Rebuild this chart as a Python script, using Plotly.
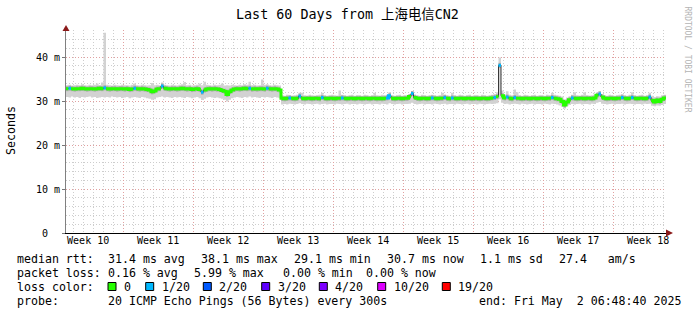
import plotly.graph_objects as go
import pandas as pd

# ---------------- data ----------------
start_time = "2025-03-03 06:48:40"
end_time = "2025-05-02 06:48:40"
step = "6h"

median_ms = [
    32.8, 32.9, 32.8, 32.7, 32.8, 32.8, 32.9, 32.8, 32.7, 32.8, 32.8, 32.7, 32.8, 32.9, 32.8, 33.0, 32.8, 32.7, 32.8, 32.8,
    32.7, 32.8, 32.8, 32.7, 32.8, 32.6, 32.7, 32.9, 32.8, 32.7, 32.8, 32.7, 32.6, 32.5, 32.1, 32.3, 32.7, 32.8, 33.4, 32.9,
    32.8, 32.7, 32.8, 32.8, 32.7, 32.8, 32.9, 32.8, 32.7, 32.8, 32.6, 32.7, 32.8, 32.6, 32.0, 32.5, 32.7, 32.8, 32.7, 32.8,
    32.7, 32.6, 32.4, 32.2, 31.5, 32.1, 32.5, 32.7, 32.8, 32.7, 32.8, 32.9, 32.8, 32.9, 32.7, 32.8, 32.7, 32.8, 32.8, 32.7,
    32.9, 32.8, 32.7, 32.8, 32.7, 32.5, 30.6, 30.5, 30.6, 30.7, 30.6, 30.5, 30.6, 31.1, 30.6, 30.5, 30.6, 30.6, 30.5, 30.6,
    30.6, 30.5, 30.8, 30.6, 30.5, 30.6, 30.6, 30.5, 30.6, 30.6, 30.7, 30.6, 30.5, 30.6, 30.6, 30.5, 30.6, 30.6, 30.5, 30.6,
    30.6, 30.5, 30.6, 30.6, 30.5, 30.6, 30.5, 30.6, 30.7, 31.2, 30.6, 30.5, 30.6, 30.6, 30.5, 30.6, 30.6, 31.0, 31.7, 30.8,
    30.6, 30.5, 30.6, 30.6, 30.5, 30.6, 30.7, 30.6, 30.5, 30.6, 30.6, 30.8, 30.6, 30.5, 30.7, 30.6, 30.5, 30.6, 30.6, 30.5,
    30.6, 30.6, 30.5, 30.6, 30.6, 30.5, 30.6, 30.6, 30.5, 30.6, 30.7, 30.8, 31.0, 38.1, 31.2, 30.7, 30.9, 30.6, 30.5, 30.8,
    30.6, 30.6, 30.5, 30.6, 30.6, 30.5, 30.6, 30.6, 30.5, 30.6, 30.6, 30.5, 30.6, 30.6, 30.8, 30.6, 30.5, 30.4, 29.9, 29.1,
    29.8, 30.3, 30.7, 30.6, 30.5, 30.6, 30.6, 30.5, 30.6, 30.6, 30.5, 30.7, 31.3, 31.6, 30.9, 30.6, 30.5, 30.6, 30.6, 30.5,
    30.6, 30.6, 30.8, 30.6, 30.5, 30.6, 30.8, 30.6, 30.5, 30.6, 30.6, 30.5, 30.6, 30.9, 30.1, 29.8, 30.2, 29.9, 30.4, 30.7,
]

smoke_lo_ms = [
    30.9, 30.8, 31.0, 30.8, 30.9, 30.7, 30.9, 30.8, 30.9, 31.0, 30.8, 30.9, 30.7, 30.8, 30.9, 30.8, 30.9, 30.8, 31.0, 30.9,
    30.8, 30.9, 30.7, 30.8, 30.9, 30.6, 30.8, 30.9, 30.8, 30.7, 30.9, 30.8, 30.6, 30.5, 30.3, 30.4, 30.8, 30.9, 31.0, 30.8,
    30.9, 30.8, 30.7, 30.9, 30.8, 30.9, 30.8, 30.7, 30.9, 30.8, 30.6, 30.8, 30.9, 30.6, 30.2, 30.5, 30.8, 30.9, 30.8, 30.7,
    30.8, 30.6, 30.5, 30.3, 29.9, 30.3, 30.6, 30.8, 30.9, 30.8, 30.7, 30.9, 30.8, 31.0, 30.8, 30.9, 30.8, 30.7, 30.9, 30.8,
    30.9, 30.8, 30.7, 30.9, 30.8, 30.6, 29.2, 29.3, 29.2, 29.4, 29.3, 29.2, 29.3, 29.5, 29.3, 29.2, 29.4, 29.3, 29.2, 29.3,
    29.4, 29.2, 29.3, 29.4, 29.2, 29.3, 29.3, 29.2, 29.4, 29.3, 29.2, 29.3, 29.4, 29.2, 29.3, 29.3, 29.2, 29.4, 29.3, 29.2,
    29.3, 29.4, 29.2, 29.3, 29.3, 29.2, 29.4, 29.3, 29.2, 29.5, 29.3, 29.2, 29.3, 29.4, 29.2, 29.3, 29.3, 29.4, 29.6, 29.3,
    29.2, 29.3, 29.4, 29.2, 29.3, 29.3, 29.2, 29.4, 29.3, 29.2, 29.3, 29.4, 29.2, 29.3, 29.3, 29.2, 29.4, 29.3, 29.2, 29.3,
    29.4, 29.2, 29.3, 29.3, 29.2, 29.4, 29.3, 29.2, 29.3, 29.4, 29.3, 29.4, 29.5, 30.4, 29.6, 29.3, 29.4, 29.2, 29.3, 29.4,
    29.3, 29.2, 29.4, 29.3, 29.2, 29.3, 29.4, 29.2, 29.3, 29.3, 29.2, 29.4, 29.3, 29.2, 29.4, 29.3, 29.2, 29.0, 28.7, 28.3,
    28.8, 29.1, 29.3, 29.2, 29.3, 29.4, 29.2, 29.3, 29.3, 29.2, 29.4, 29.3, 29.6, 29.8, 29.4, 29.3, 29.2, 29.3, 29.4, 29.2,
    29.3, 29.3, 29.4, 29.2, 29.3, 29.4, 29.3, 29.2, 29.3, 29.3, 29.2, 29.4, 29.3, 29.4, 28.9, 28.8, 29.0, 28.9, 29.1, 29.3,
]

smoke_hi_ms = [
    33.6, 33.7, 33.5, 33.6, 33.7, 33.6, 33.8, 33.6, 33.5, 33.7, 33.6, 33.7, 34.0, 33.6, 34.2, 45.5, 33.7, 33.6, 33.5, 33.7,
    33.6, 33.5, 33.7, 33.6, 33.6, 33.5, 33.7, 34.0, 33.6, 33.5, 33.7, 33.6, 33.5, 33.6, 34.1, 33.6, 33.7, 33.6, 34.2, 33.7,
    33.6, 33.5, 33.7, 33.6, 33.5, 33.7, 33.8, 34.3, 33.6, 33.7, 33.5, 33.6, 33.7, 34.0, 33.6, 34.4, 33.7, 33.6, 33.5, 33.7,
    33.6, 33.7, 34.0, 33.5, 33.6, 33.5, 33.7, 33.6, 33.5, 33.7, 33.6, 33.8, 33.7, 34.4, 33.6, 33.7, 33.5, 33.6, 34.9, 33.7,
    33.8, 33.6, 33.5, 33.7, 33.6, 33.5, 31.3, 31.2, 31.4, 31.3, 31.2, 31.3, 31.4, 31.9, 31.9, 31.3, 31.2, 31.4, 31.3, 31.2,
    31.3, 31.4, 31.9, 31.3, 31.2, 31.3, 31.4, 31.3, 31.2, 32.4, 31.4, 31.3, 31.2, 31.3, 31.4, 31.2, 31.3, 31.3, 31.2, 31.4,
    31.3, 31.2, 31.3, 31.9, 31.3, 31.2, 31.4, 31.3, 31.4, 32.0, 31.3, 31.2, 31.3, 31.4, 31.2, 31.3, 31.3, 31.6, 32.3, 31.5,
    31.3, 31.2, 31.4, 31.3, 31.2, 31.3, 31.4, 31.3, 31.2, 31.3, 31.9, 31.5, 31.3, 31.2, 31.9, 31.3, 31.2, 31.4, 31.3, 31.2,
    31.3, 31.4, 31.2, 31.3, 31.3, 31.2, 31.4, 31.3, 31.2, 31.3, 31.4, 31.6, 32.0, 39.9, 32.4, 31.5, 32.2, 31.4, 31.3, 32.6,
    32.0, 31.3, 31.2, 31.4, 31.3, 31.2, 31.3, 31.4, 31.2, 31.3, 31.3, 31.2, 31.4, 31.3, 31.9, 31.4, 31.3, 31.2, 31.0, 30.4,
    30.8, 31.1, 31.4, 32.0, 31.3, 31.2, 31.4, 32.0, 31.3, 31.2, 31.3, 31.5, 31.9, 32.3, 31.6, 31.3, 31.2, 31.4, 31.3, 31.2,
    31.3, 31.4, 31.6, 31.3, 31.2, 31.4, 32.0, 31.3, 31.2, 31.3, 31.4, 31.2, 31.3, 31.9, 31.2, 30.9, 31.1, 31.0, 31.3, 31.4,
]

# samples (index into the 6h series) that had 1/20 packet loss
loss_samples = [1, 15, 27, 38, 54, 73, 80, 89, 93, 102, 110, 128, 129, 138, 146, 151,
                154, 171, 173, 176, 179, 194, 202, 213, 222, 226, 233]
loss_counts = [1] * 27

week_grid_times = ["2025-03-09", "2025-03-16", "2025-03-23", "2025-03-30", "2025-04-06",
                   "2025-04-13", "2025-04-20", "2025-04-27"]
week_label_times = ["2025-03-05 12:00", "2025-03-12 12:00", "2025-03-19 12:00", "2025-03-26 12:00",
                    "2025-04-02 12:00", "2025-04-09 12:00", "2025-04-16 12:00", "2025-04-23 12:00",
                    "2025-04-30 12:00"]
week_labels = ["Week 10", "Week 11", "Week 12", "Week 13", "Week 14", "Week 15", "Week 16",
               "Week 17", "Week 18"]
y_tick_vals = [0, 10, 20, 30, 40]
y_tick_text = ["0\u00a0\u00a0", "10 m", "20 m", "30 m", "40 m"]

rtt_stats = ["31.4 ms avg", "38.1 ms max", "29.1 ms min", "30.7 ms now", "1.1 ms sd", "27.4   am/s"]
loss_stats = ["0.16 % avg", "5.99 % max", "0.00 % min", "0.00 % now"]
loss_color_labels = ["0", "1/20", "2/20", "3/20", "4/20", "10/20", "19/20"]
loss_color_values = ["#26ff00", "#00b8ff", "#0059ff", "#5e00ff", "#7e00ff", "#dd00ff", "#ff0000"]
probe_text = "20 ICMP Echo Pings (56 Bytes) every 300s"
end_text = "end: Fri May  2 06:48:40 2025"
title_text = "Last 60 Days from 上海电信CN2"

# ---------------- layout geometry (pixels) ----------------
W, H = 697, 315
PL, PR, PT, PB = 66, 666, 30, 233
Y_MAX = (PB - PT) / 4.4


def px(x):
    return (x - PL) / (PR - PL)


def py(y):
    return (PB - y) / (PB - PT)


MONO = "DejaVu Sans Mono"
MONO_CJK = "DejaVu Sans Mono, Noto Sans CJK SC"
MAJOR = "#e0a0a0"
MINOR = "#cdcdcd"

times = pd.date_range(start_time, periods=len(median_ms) + 1, freq=step)
n = len(median_ms)
loss = [0] * n
for i, c in zip(loss_samples, loss_counts):
    loss[i] = c

fig = go.Figure()

# smoke band
fig.add_trace(go.Scatter(x=times, y=smoke_lo_ms + [smoke_lo_ms[-1]], mode="lines",
                         line=dict(width=0, shape="hv", color="#cccccc"),
                         hoverinfo="skip", showlegend=False))
fig.add_trace(go.Scatter(x=times, y=smoke_hi_ms + [smoke_hi_ms[-1]], mode="lines",
                         line=dict(width=0, shape="hv", color="#cccccc"),
                         fill="tonexty", fillcolor="#d2d2d2",
                         hoverinfo="skip", showlegend=False))

# darker smoke close to the median (horizontal pieces only)
hx, hy = [], []
for k in range(n):
    hx += [times[k], times[k + 1], None]
    hy += [median_ms[k] - 0.0, median_ms[k], None]
fig.add_trace(go.Scatter(x=hx, y=hy, mode="lines",
                         line=dict(width=5, color="#ababab"),
                         hoverinfo="skip", showlegend=False))

# thin dark median trace (shows at loss transitions / spikes)
fig.add_trace(go.Scatter(x=times, y=median_ms + [median_ms[-1]], mode="lines",
                         line=dict(width=1, shape="hv", color="#3a3a3a"),
                         hoverinfo="skip", showlegend=False))

# median coloured by loss
for level, color in [(0, loss_color_values[0]), (1, loss_color_values[1])]:
    xs, ys = [], []
    i = 0
    while i < n:
        if loss[i] == level:
            j = i
            while j + 1 < n and loss[j + 1] == level:
                j += 1
            for k in range(i, j + 1):
                xs.append(times[k])
                ys.append(median_ms[k])
            xs.append(times[j + 1])
            ys.append(median_ms[j])
            xs.append(None)
            ys.append(None)
            i = j + 1
        else:
            i += 1
    fig.add_trace(go.Scatter(x=xs, y=ys, mode="lines", connectgaps=False,
                             line=dict(width=3, shape="hv", color=color),
                             hoverinfo="skip", showlegend=False))

# invisible trace on the label axis
fig.add_trace(go.Scatter(x=[times[0], times[-1]], y=[0, 0], xaxis="x2", mode="lines",
                         line=dict(width=0), hoverinfo="skip", showlegend=False))

fig.update_layout(
    width=W, height=H,
    margin=dict(l=PL, r=W - PR, t=PT, b=H - PB),
    paper_bgcolor="white", plot_bgcolor="white",
    font=dict(family=MONO, size=10, color="black"),
    xaxis=dict(
        type="date", range=[start_time, end_time],
        tickmode="array", tickvals=week_grid_times, showticklabels=False, ticks="",
        showgrid=True, gridcolor=MAJOR, griddash="1px,2px", gridwidth=1,
        minor=dict(dtick=86400000, tick0="2025-03-02", showgrid=True,
                   gridcolor=MINOR, griddash="1px,2px", gridwidth=1, ticks=""),
        showline=True, linecolor="black", linewidth=1, zeroline=False,
    ),
    xaxis2=dict(
        type="date", overlaying="x", anchor="y", side="bottom",
        range=[start_time, end_time],
        tickmode="array", tickvals=week_label_times, ticktext=week_labels,
        showgrid=False, ticks="", showline=False, zeroline=False,
        tickfont=dict(family=MONO, size=10, color="black"),
    ),
    yaxis=dict(
        range=[0, Y_MAX], tickmode="array", tickvals=y_tick_vals, ticktext=y_tick_text,
        showgrid=True, gridcolor=MAJOR, griddash="1px,2px", gridwidth=1,
        minor=dict(dtick=2, showgrid=True, gridcolor=MINOR, griddash="1px,2px", gridwidth=1),
        ticks="outside", ticklen=3, tickcolor="#777777",
        showline=True, linecolor="#808080", linewidth=1, zeroline=False,
        tickfont=dict(family=MONO, size=10, color="black"),
    ),
)

annotations = []
shapes = []


def add_text(x, y, text, size=11.6, color="black", xanchor="left", angle=0, family=MONO):
    annotations.append(dict(x=px(x), y=py(y), xref="paper", yref="paper", text=text,
                            showarrow=False, xanchor=xanchor, yanchor="middle",
                            textangle=angle, borderpad=0,
                            font=dict(family=family, size=size, color=color)))


add_text(347.5, 15, title_text, size=13.4, xanchor="center", family=MONO_CJK)
add_text(687.5, 59, "RRDTOOL / TOBI OETIKER", size=8, color="#b4b4b4", xanchor="center", angle=90)
add_text(11, 131, "Seconds", size=11.6, xanchor="center", angle=-90)

row_y = [259, 273, 286.5, 300.5]
add_text(16, row_y[0], "median rtt:")
for x, t in zip([107, 200, 293, 386, 479, 558], rtt_stats):
    add_text(x, row_y[0], t)
add_text(16, row_y[1], "packet loss:")
for x, t in zip([107, 193, 282, 365], loss_stats):
    add_text(x, row_y[1], t)
add_text(16, row_y[2], "loss color:")
box_x = [108, 145.7, 203.3, 261.7, 319.3, 377.7, 442.3]
lab_x = [123, 161, 218.3, 276.7, 334.3, 392.7, 457.3]
for bx, lx, lab, col in zip(box_x, lab_x, loss_color_labels, loss_color_values):
    shapes.append(dict(type="rect", xref="paper", yref="paper",
                       x0=px(bx), x1=px(bx + 8), y0=py(290.5), y1=py(282.5),
                       fillcolor=col, line=dict(color="black", width=1)))
    add_text(lx, row_y[2], lab)
add_text(16, row_y[3], "probe:")
add_text(107, row_y[3], probe_text)
add_text(478, row_y[3], end_text)

# axis arrow heads
ARROW = "#8b1a1a"
shapes.append(dict(type="path", xref="paper", yref="paper",
                   path=f"M {px(666)} {py(229.5)} L {px(673)} {py(233)} L {px(666)} {py(236.5)} Z",
                   fillcolor=ARROW, line=dict(color=ARROW, width=0)))
shapes.append(dict(type="path", xref="paper", yref="paper",
                   path=f"M {px(62.5)} {py(31)} L {px(66)} {py(25)} L {px(69.5)} {py(31)} Z",
                   fillcolor=ARROW, line=dict(color=ARROW, width=0)))

fig.update_layout(annotations=annotations, shapes=shapes)

fig.write_html("out.html")
